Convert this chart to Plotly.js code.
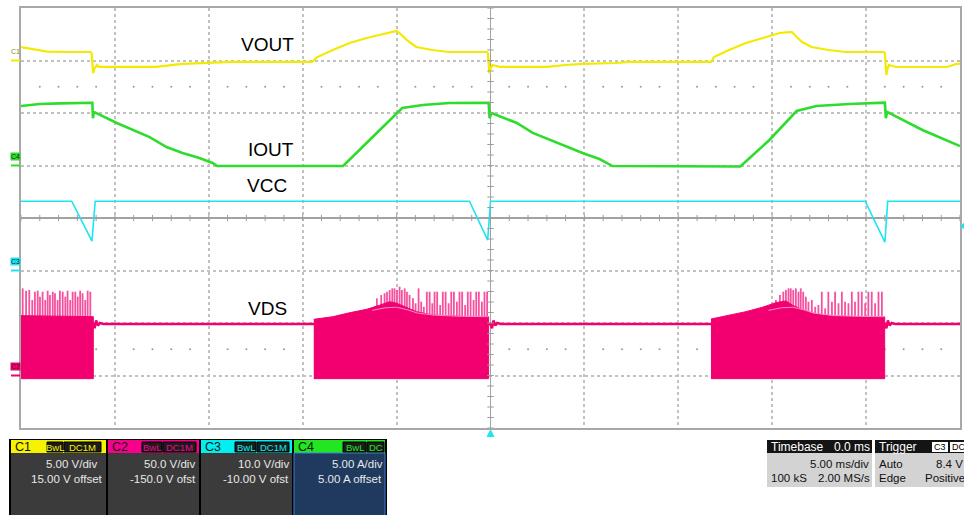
<!DOCTYPE html>
<html><head><meta charset="utf-8">
<script src="https://cdn.plot.ly/plotly-3.0.1.min.js"></script>
<style>html,body{margin:0;padding:0;background:#fff;overflow:hidden}#chart{width:964px;height:515px}</style>
</head><body><div id="chart"></div>
<script>
// ---------------- DATA ----------------
const channels      = ['C1', 'C2', 'C3', 'C4'];
const channelNames  = ['VOUT', 'VDS', 'VCC', 'IOUT'];
const voltsPerDiv   = [5, 50, 10, 5];
const offsets       = [15, -150, -10, 5];
const vdivLabels    = ['5.00 V/div', '50.0 V/div', '10.0 V/div', '5.00 A/div'];
const offsetLabels  = ['15.00 V offset', '-150.0 V ofst', '-10.00 V ofst', '5.00 A offset'];
const bwLabels      = ['BwL', 'BwL', 'BwL', 'BwL'];
const couplingLabels= ['DC1M', 'DC1M', 'DC1M', 'DC'];
const timebase      = {delay: '0.0 ms', perDiv: '5.00 ms/div', samples: '100 kS', rate: '2.00 MS/s'};
const trigger       = {source: 'C3', coupling: 'DC', mode: 'Auto', level: '8.4 V', type: 'Edge', slope: 'Positive'};
const timeRange     = [-25, 25]; // ms, 5 ms/div

// C1 VOUT [ms, V]
const voutPts = [[-25,1.28],[-24.4,1.1],[-23.6,0.85],[-22.5,0.81],[-21.3,0.81],[-21.24,0.7],[-21.2,-0.3],[-21.16,-1.2],[-21.1,-0.8],[-20.95,-0.43],[-20.85,-0.6],[-17.8,-0.6],[-16.4,-0.33],[-14.9,-0.24],[-13.7,-0.14],[-9.5,-0.14],[-9.25,0.3],[-8.4,1.0],[-7.5,1.67],[-6.6,2.14],[-5.75,2.52],[-5.2,2.71],[-5.0,2.81],[-4.85,2.62],[-4.45,1.95],[-3.95,1.29],[-3.1,1.0],[-2.2,0.81],[-1.3,0.81],[-0.2,0.81],[-0.14,0.7],[-0.1,-0.3],[-0.06,-1.2],[0.0,-0.8],[0.1,-0.43],[0.5,-0.6],[3.0,-0.6],[4.0,-0.43],[4.9,-0.33],[6.7,-0.24],[7.4,-0.14],[11.75,-0.14],[11.9,0.33],[12.7,1.0],[13.6,1.67],[14.5,2.14],[15.4,2.62],[15.9,2.71],[16.05,2.71],[16.3,2.24],[16.6,1.76],[17.1,1.29],[18.0,1.0],[18.9,0.81],[19.8,0.81],[20.95,0.81],[21.0,0.7],[21.04,-0.3],[21.08,-1.38],[21.14,-0.8],[21.22,-0.43],[21.6,-0.62],[24.3,-0.62],[24.8,-0.33],[25,-0.3]];

// C4 IOUT [ms, A]
const ioutPts = [[-25,5.67],[-24,5.86],[-22.9,5.92],[-21.3,5.98],[-21.2,5.98],[-21.17,4.5],[-21.12,5.1],[-19.9,4.05],[-19.05,3.38],[-18.15,2.71],[-17.25,1.76],[-16.4,1.19],[-15.5,0.71],[-14.8,0.24],[-14.55,-0.05],[-7.85,-0.05],[-6.6,2.14],[-5.9,3.38],[-5.0,5.0],[-4.7,5.48],[-3.6,5.76],[-2.2,5.95],[-0.1,5.98],[-0.05,4.5],[0.05,5.0],[1.4,4.05],[2.25,3.1],[3.15,2.43],[4.05,1.76],[4.9,1.19],[5.8,0.62],[6.5,-0.05],[13.3,-0.1],[14.85,2.43],[16.3,5.19],[17.35,5.67],[19.1,5.86],[21.0,5.98],[21.05,4.5],[21.12,5.1],[23.0,3.38],[24.85,1.95],[25,1.85]];

// C3 VCC [ms, V]
const vccPts = [[-25,13.2],[-22.3,13.2],[-21.22,5.6],[-21.05,13.2],[-1.12,13.2],[-0.15,5.8],[0.0,13.2],[19.95,13.2],[21.0,5.4],[21.15,13.2],[25,13.2]];

// C2 VDS [ms, V]: off-state level with ringing
const vdsLinePts = [[-25,49],[-21.15,49],[-21.08,45],[-21.0,52.5],[-20.9,47.5],[-20.8,50],[-20.6,49],[0.0,49],[0.08,45],[0.16,52.5],[0.26,47.5],[0.36,50],[0.55,49],[21.0,49],[21.08,45],[21.16,52.5],[21.26,47.5],[21.36,50],[21.55,49],[25,49]];
// switching bursts: top of dense region [ms, V], bottom level
const burst1Top = [[-25,57],[-21.15,56]];
const burst2Top = [[-9.41,53.5],[-8.4,56],[-7.5,59.8],[-6.6,63],[-5.9,67],[-5.37,70.3],[-5.0,68.8],[-4.47,65],[-3.94,60.8],[-3.09,57.6],[-1.28,56],[-0.1,56]];
const burst3Top = [[11.74,53.8],[12.71,57.6],[13.6,60.8],[14.48,65],[15.2,69.4],[15.73,71],[16.08,67],[16.61,62.4],[17.32,58.6],[18.39,56],[20.99,56]];
const burstBottom = -3;
// envelope of drain plateau inside bursts
const env2Pts = [[-6.3,62],[-5.6,64.5],[-5.0,65],[-4.4,62.5],[-3.9,59.5],[-3.0,57.5],[-1.5,56.3],[-0.1,56]];
const env3Pts = [[14.8,62],[15.5,64.5],[16.1,65],[16.7,62.5],[17.2,59.5],[18.1,57.5],[19.6,56.3],[21.0,56]];
// ringing spikes: times (ms) and peak voltages (V)
const spike1T = [-24.91,-24.73,-24.56,-24.40,-24.26,-24.11,-23.99,-23.85,-23.71,-23.58,-23.46,-23.31,-23.19,-23.05,-22.93,-22.78,-22.64,-22.52,-22.38,-22.25,-22.11,-21.98,-21.85,-21.72,-21.58,-21.45,-21.31];
const spike1V = [83.0,80.8,81.4,71.9,79.8,80.8,75.1,79.8,71.9,80.8,76.7,79.8,78.3,71.9,80.8,79.8,75.1,80.8,71.9,79.8,79.8,75.1,80.8,78.3,71.9,80.8,79.8];
const spike2T = [-6.05,-5.82,-5.64,-5.51,-5.37,-5.23,-5.11,-4.98,-4.84,-4.72,-4.57,-4.45,-4.31,-4.13,-3.99,-3.83,-3.69,-3.55,-3.39,-3.24,-3.10,-2.98,-2.84,-2.68,-2.54,-2.39,-2.23,-2.09,-1.95,-1.79,-1.65,-1.51,-1.35,-1.21,-1.06,-0.90,-0.76,-0.62,-0.46,-0.32,-0.18];
const spike2V = [73.5,76.7,78.3,79.8,81.4,83.0,83.0,81.4,84.6,81.4,83.0,79.8,76.7,73.5,68.8,83.0,70.3,65.5,79.8,79.8,68.8,79.8,79.8,67.1,79.8,79.8,68.8,79.8,79.8,70.3,79.8,79.8,67.1,79.8,79.8,71.9,79.8,79.8,70.3,79.8,79.8];
const spike3T = [15.20,15.41,15.59,15.73,15.87,15.99,16.12,16.26,16.40,16.52,16.65,16.79,16.93,17.11,17.29,17.46,17.64,17.82,17.99,18.18,18.35,18.53,18.71,18.88,19.06,19.24,19.41,19.59,19.77,19.95,20.12,20.30,20.48,20.66,20.84];
const spike3V = [71.9,76.7,79.8,81.4,83.0,83.0,81.4,83.0,79.8,83.0,79.8,75.1,70.3,71.9,65.5,67.1,79.8,63.9,79.8,70.3,79.8,68.8,79.8,70.3,68.8,79.8,70.3,79.8,79.8,68.8,79.8,79.8,68.8,79.8,79.8];

// ---------------- STYLE / LAYOUT ----------------
const FONT = 'Liberation Sans, Arial, sans-serif';
const colors = {C1: '#f2ea00', C2: '#f2006f', C3: '#1ee3f2', C4: '#2edc2e'};
const headerColors = ['#f6f200', '#f7008c', '#00f0f0', '#22e622'];
const spikeColor = '#f6509f', envColor = '#ff8cc6';
const axisOf = {C1: 'y2', C2: 'y3', C3: 'y4', C4: 'y5'};

const xs = p => p.map(d => d[0]), ys = p => p.map(d => d[1]);
function line(pts, ch, w, extra) {
  return Object.assign({x: xs(pts), y: ys(pts), type: 'scatter', mode: 'lines', yaxis: axisOf[ch],
    line: {color: colors[ch], width: w}, hoverinfo: 'skip'}, extra || {});
}
function spikes(T, V, base) {
  const x = [], y = [];
  T.forEach((t, i) => { x.push(t, t, null); y.push(base, V[i], null); });
  return {x, y, type: 'scatter', mode: 'lines', yaxis: 'y3', line: {color: spikeColor, width: 1.8}, hoverinfo: 'skip'};
}
function burst(top) {
  const x = xs(top).concat([top[top.length - 1][0], top[0][0]]);
  const y = ys(top).concat([burstBottom, burstBottom]);
  return {x, y, type: 'scatter', mode: 'lines', fill: 'toself', fillcolor: colors.C2, yaxis: 'y3',
    line: {color: colors.C2, width: 1}, hoverinfo: 'skip'};
}

// graticule decorations (dotted rows at +/-2.5 div)
const dotX = [], dotY = [];
for (let t = -24; t <= 24; t++) { if (t % 5 !== 0) { dotX.push(t, t); dotY.push(2.5, -2.5); } }

const traces = [
  {x: dotX, y: dotY, type: 'scatter', mode: 'markers', marker: {color: '#9a9a9a', size: 2}, hoverinfo: 'skip'},
  line(vccPts, 'C3', 1.6),
  line(voutPts, 'C1', 2.2),
  line(ioutPts, 'C4', 2.6),
  line(vdsLinePts, 'C2', 2.5),
  spikes(spike1T, spike1V, 52), spikes(spike2T, spike2V, 52), spikes(spike3T, spike3V, 52),
  burst(burst1Top), burst(burst2Top), burst(burst3Top),
  line(env2Pts, 'C2', 1, {line: {color: envColor, width: 1}}),
  line(env3Pts, 'C2', 1, {line: {color: envColor, width: 1}})
];

// pixel helpers for the info panels (plot area: x 21..960, y 8..428)
const L = 21, T = 8, PW = 939, PH = 420;
const PX = x => (x - L) / PW, PY = y => (T + PH - y) / PH;
const shapes = [], annotations = [];
function rect(x0, y0, x1, y1, fill, lineColor) {
  shapes.push({type: 'rect', xref: 'paper', yref: 'paper', x0: PX(x0), x1: PX(x1), y0: PY(y1), y1: PY(y0),
    fillcolor: fill, line: {width: lineColor ? 1 : 0, color: lineColor || fill}, layer: 'above'});
}
function text(s, x, y, anchor, size, color, extra) {
  annotations.push(Object.assign({xref: 'paper', yref: 'paper', x: PX(x), y: PY(y), text: s, showarrow: false,
    xanchor: anchor, yanchor: 'middle', borderpad: 0, font: {family: FONT, size: size, color: color}}, extra || {}));
}

// centre cross ticks (every 0.2 div)
for (let k = -20; k <= 20; k++) {
  shapes.push({type: 'line', xref: 'x', yref: 'y', x0: -0.17, x1: 0.17, y0: k / 5, y1: k / 5, line: {color: '#9c9c9c', width: 1}});
}
for (let t = -25; t <= 25; t++) {
  shapes.push({type: 'line', xref: 'x', yref: 'y', x0: t, x1: t, y0: -0.06, y1: 0.06, line: {color: '#9c9c9c', width: 1}});
}

// trace labels
const labelPos = {VOUT: [-11.86, 3.30], IOUT: [-11.68, 1.30], VCC: [-11.89, 0.61], VDS: [-11.89, -1.73]};
Object.keys(labelPos).forEach(k => annotations.push({xref: 'x', yref: 'y', x: labelPos[k][0], y: labelPos[k][1],
  text: k, showarrow: false, xanchor: 'center', yanchor: 'middle', font: {family: FONT, size: 19, color: '#000'}}));

// channel ground markers on the left edge
channels.forEach((c, i) => {
  const div = offsets[i] / voltsPerDiv[i];
  const yp = (div + 4) / 8;
  shapes.push({type: 'line', xref: 'paper', yref: 'paper', x0: PX(11), x1: PX(20), y0: yp, y1: yp, line: {color: colors[c], width: 2}});
  annotations.push({xref: 'paper', yref: 'paper', x: PX(15), y: yp + 9 / PH, text: c, showarrow: false,
    xanchor: 'center', yanchor: 'middle', borderpad: 0, bgcolor: i === 0 ? 'rgba(0,0,0,0)' : colors[c],
    font: {family: FONT, size: 7, color: i === 0 ? '#8f8a00' : '#222'}});
});

// trigger markers
shapes.push({type: 'path', xref: 'paper', yref: 'paper',
  path: `M ${PX(490.5)} ${PY(429)} L ${PX(486.5)} ${PY(437)} L ${PX(494.5)} ${PY(437)} Z`, fillcolor: colors.C3, line: {width: 0}});
shapes.push({type: 'path', xref: 'paper', yref: 'paper',
  path: `M ${PX(960)} ${PY(226)} L ${PX(965)} ${PY(222)} L ${PX(965)} ${PY(230)} Z`, fillcolor: colors.C3, line: {width: 0}});

// channel info boxes
rect(9, 439, 387, 516, '#000000');
const boxX = [[11, 106], [108, 199], [201, 292], [294, 385]];
const bwX = [[47, 63], [142, 162], [235, 256], [343, 366]];
const cpX = [[64, 101], [163, 196], [257, 289], [367, 384]];
const vdivRight = [98, 196, 290, 384];
channels.forEach((c, i) => {
  const [a, b] = boxX[i];
  rect(a, 440, b, 453, headerColors[i]);
  rect(a, 453, b, 516, i === 3 ? '#1f3a5e' : '#3b3b3b', i === 3 ? '#3f7fd8' : null);
  text(c, a + 3, 447, 'left', 12.5, '#111');
  rect(bwX[i][0], 442, bwX[i][1], 452, '#1c1c1c', '#000');
  text(bwLabels[i], (bwX[i][0] + bwX[i][1]) / 2, 447, 'center', 9.5, headerColors[i]);
  rect(cpX[i][0], 442, cpX[i][1], 452, '#1c1c1c', '#000');
  text(couplingLabels[i], (cpX[i][0] + cpX[i][1]) / 2, 447, 'center', 9.5, headerColors[i]);
  text(vdivLabels[i], vdivRight[i], 464, 'right', 11.5, '#e8e8e8');
  text(offsetLabels[i], b - 2, 479, 'right', 11.5, '#e8e8e8');
});

// timebase & trigger boxes
rect(767, 440, 872, 453, '#141414');
rect(767, 453, 872, 487, '#d3d3d3');
text('Timebase', 770, 447, 'left', 12, '#fff');
text(timebase.delay, 871, 447, 'right', 12, '#fff');
text(timebase.perDiv, 870, 464, 'right', 11.5, '#111');
text(timebase.samples, 770, 478, 'left', 11.5, '#111');
text(timebase.rate, 871, 478, 'right', 11.5, '#111');
rect(875, 440, 968, 453, '#141414');
rect(875, 453, 968, 487, '#d3d3d3');
text('Trigger', 878, 447, 'left', 12, '#fff');
rect(932, 442, 948, 452, '#ffffff');
text(trigger.source, 940, 447, 'center', 9, '#000');
rect(950, 442, 968, 452, '#ffffff');
text(trigger.coupling, 951, 447, 'left', 9, '#000');
text(trigger.mode, 878, 464, 'left', 11.5, '#111');
text(trigger.level, 964, 464, 'right', 11.5, '#111');
text(trigger.type, 878, 478, 'left', 11.5, '#111');
text(trigger.slope, 966, 478, 'right', 11.5, '#111');

const gridAxis = {showgrid: true, gridcolor: '#c2c2c2', griddash: 'dot', gridwidth: 2,
  zeroline: true, zerolinecolor: '#a2a2a2', zerolinewidth: 1.5,
  showline: true, mirror: true, linecolor: '#a8a8a8', linewidth: 2,
  ticks: '', showticklabels: false, fixedrange: true};
const chRange = i => [-4 * voltsPerDiv[i] - offsets[i], 4 * voltsPerDiv[i] - offsets[i]];
const hidden = i => ({overlaying: 'y', range: chRange(i), visible: false, fixedrange: true});

const layout = {
  width: 964, height: 515, autosize: false,
  margin: {l: L, r: 964 - L - PW, t: T, b: 515 - T - PH, pad: 0},
  paper_bgcolor: '#ffffff', plot_bgcolor: '#ffffff', showlegend: false,
  xaxis: Object.assign({range: timeRange, dtick: 5, tick0: 0}, gridAxis),
  yaxis: Object.assign({range: [-4, 4], dtick: 1, tick0: 0}, gridAxis),
  yaxis2: hidden(0), yaxis3: hidden(1), yaxis4: hidden(2), yaxis5: hidden(3),
  shapes, annotations
};
Plotly.newPlot('chart', traces, layout, {displayModeBar: false, staticPlot: true});
</script></body></html>
